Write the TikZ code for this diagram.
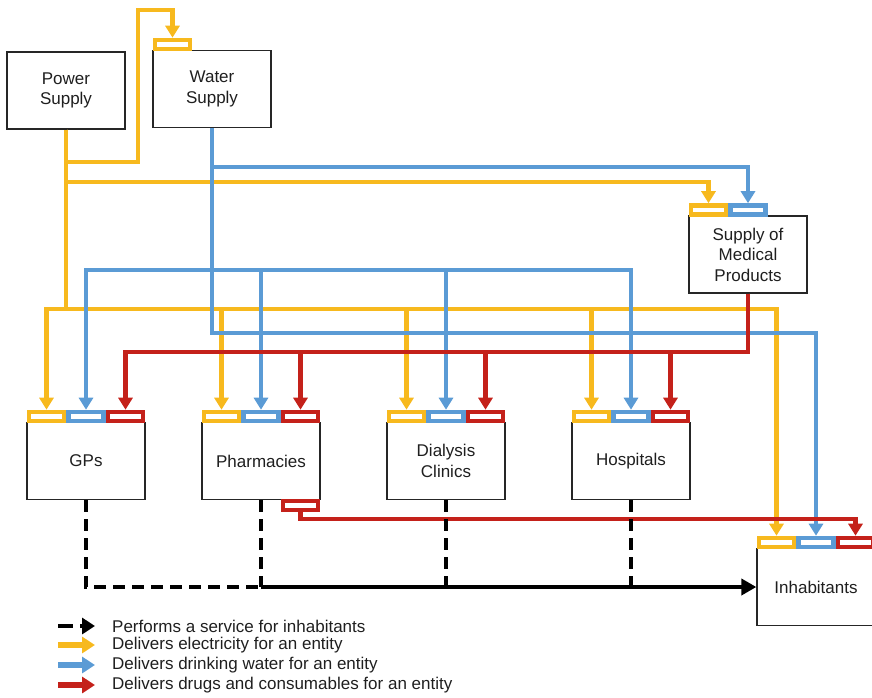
\documentclass[tikz,border=0pt]{standalone}
\usepackage{fontspec}
\setmainfont{Liberation Sans}
\usetikzlibrary{arrows.meta}

\definecolor{elecc}{RGB}{247,185,30}
\definecolor{waterc}{RGB}{91,155,213}
\definecolor{drugc}{RGB}{196,33,26}

\tikzset{
  box/.style={draw=black!85, line width=1.3pt, fill=white, minimum width=118pt,
    minimum height=77pt, inner sep=0pt, align=center,
    font=\fontsize{17}{20.5}\selectfont, text=black!88},
  bar/.style={line width=4.3pt, fill=white, minimum width=35pt,
    minimum height=9pt, inner sep=0pt},
  elecbar/.style={bar, draw=elecc},
  waterbar/.style={bar, draw=waterc},
  drugbar/.style={bar, draw=drugc},
  conn/.style={line width=4.2pt, -{Triangle[length=12pt,width=14pt]}},
  elecline/.style={conn, draw=elecc},
  waterline/.style={conn, draw=waterc},
  drugline/.style={conn, draw=drugc},
  servdash/.style={draw=black, line width=4.6pt, dash pattern=on 12pt off 7pt},
  servline/.style={draw=black, line width=4.6pt, -{Triangle[length=15pt,width=16pt]}},
  legtext/.style={anchor=west, inner sep=0pt, font=\fontsize{17}{20}\selectfont, text=black!88},
  legarrow/.style={line width=5.5pt, -{Triangle[length=13pt,width=16pt]}}
}

\begin{document}
\begin{tikzpicture}[x=1pt, y=-1pt]
    \useasboundingbox (0,0) rectangle (872,698);

    % Versorger
    \node[box] (power) at (66,90.5) {Power\\Supply};
    \node[box] (water) at (212,89) {Water\\Supply};
    \node[box] (smp) at (748,254.5) {Supply of\\Medical\\Products};
    \node[elecbar] (water-e) at ([xshift=-39.5pt,yshift=5.5pt]water.north) {};
    \node[elecbar] (smp-e) at ([xshift=-39.5pt,yshift=5.5pt]smp.north) {};
    \node[waterbar] (smp-w) at ([yshift=5.5pt]smp.north) {};

    % Einrichtungen und Einwohner
    \foreach \n/\x/\y/\t in {gps/86/461/GPs, pharm/261/461/Pharmacies,
        dial/446/461/{Dialysis\\Clinics}, hosp/631/461/Hospitals, inh/816/587/Inhabitants}{
      \node[box] (\n) at (\x,\y) {\t};
      \node[elecbar] (\n-e) at ([xshift=-39.5pt,yshift=5.5pt]\n.north) {};
      \node[waterbar] (\n-w) at ([yshift=5.5pt]\n.north) {};
      \node[drugbar] (\n-d) at ([xshift=39.5pt,yshift=5.5pt]\n.north) {};
    }
    \node[drugbar] (pharm-out) at ([xshift=39.5pt,yshift=-5pt]pharm.south) {};

    % Ebenen der Leitungen
    \coordinate (eloopb) at (138,162);
    \coordinate (eloopt) at (138,10);
    \coordinate (elev1) at (0,182);
    \coordinate (elev2) at (0,309);
    \coordinate (wlev1) at (0,167);
    \coordinate (wlev2) at (0,270);
    \coordinate (wlev3) at (0,333);
    \coordinate (dlev) at (0,352);

    % Strom
    \draw[elecline] (power.south) |- (eloopb) -- (eloopt) -| (water-e.north);
    \draw[elecline] (power.south) -- (power.south |- elev1) -| (smp-e.north);
    \foreach \n in {gps,pharm,dial,hosp,inh}
      \draw[elecline] (power.south) -- (power.south |- elev2) -| (\n-e.north);

    % Wasser
    \draw[waterline] (water.south) -- (water.south |- wlev1) -| (smp-w.north);
    \foreach \n in {gps,pharm,dial,hosp}
      \draw[waterline] (water.south) -- (water.south |- wlev2) -| (\n-w.north);
    \draw[waterline] (water.south) -- (water.south |- wlev3) -| (inh-w.north);

    % Medikamente
    \foreach \n in {gps,pharm,dial,hosp}
      \draw[drugline] (smp.south) -- (smp.south |- dlev) -| (\n-d.north);
    \draw[drugline] (pharm-out.south) -- ++(0,7) -| (inh-d.north);

    % Dienstleistungen
    \draw[servdash] (gps.south) |- (pharm.south |- inh.west);
    \foreach \n in {pharm,dial,hosp}
      \draw[servdash] (\n.south) -- (\n.south |- inh.west);
    \draw[servline] (pharm.south |- inh.west) -- (inh.west);

    % Legende
    \node[legtext] (lg1) at (112,626) {Performs a service for inhabitants};
    \node[legtext] (lg2) at (112,645) {Delivers electricity for an entity};
    \node[legtext] (lg3) at (112,665) {Delivers drinking water for an entity};
    \node[legtext] (lg4) at (112,685) {Delivers drugs and consumables for an entity};
    \draw[legarrow, black, line width=4.5pt, dash pattern=on 15pt off 7pt]
      ([xshift=-54pt]lg1.west) -- ([xshift=-17pt]lg1.west);
    \draw[legarrow, elecc] ([xshift=-54pt]lg2.west) -- ([xshift=-17pt]lg2.west);
    \draw[legarrow, waterc] ([xshift=-54pt]lg3.west) -- ([xshift=-17pt]lg3.west);
    \draw[legarrow, drugc] ([xshift=-54pt]lg4.west) -- ([xshift=-17pt]lg4.west);
\end{tikzpicture}
\end{document}
